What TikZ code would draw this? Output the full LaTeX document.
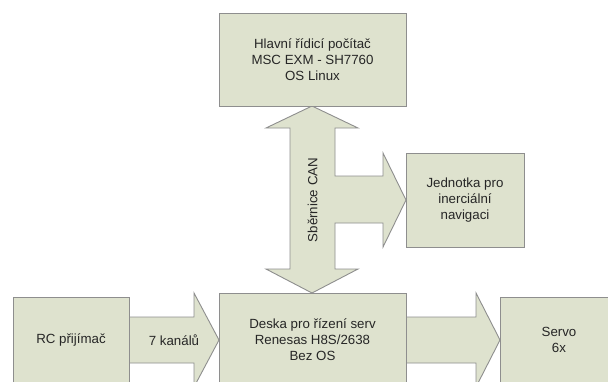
\documentclass[tikz,border=0pt]{standalone}
\usepackage{fontspec}
\setmainfont{Liberation Sans}
\begin{document}
\begin{tikzpicture}[x=1pt,y=-1pt,
  blockfill/.style={fill=sage,draw=edgegrey,line width=0.9pt,line join=miter},
  unit/.style={blockfill,rectangle,inner sep=0pt,align=center,
    font=\fontsize{13.3}{16}\selectfont,text=textdark},
  lbl/.style={inner sep=0pt,align=center,font=\fontsize{13.3}{16}\selectfont,text=textdark}]
\definecolor{sage}{HTML}{DEE2CE}
\definecolor{edgegrey}{HTML}{8E8E8E}
\definecolor{textdark}{HTML}{262626}
\useasboundingbox (0,0) rectangle (608,381);
\clip (0,0) rectangle (608,381);
\fill[white] (0,0) rectangle (608,381);

% CAN bus: double arrow with a branch to the navigation unit
\draw[blockfill] (312,106) -- (358,128) -- (335,128) -- (335,176) -- (383,176)
  -- (383,153) -- (406,200) -- (383,247) -- (383,223) -- (335,223)
  -- (335,269) -- (358,269) -- (312,293) -- (266,269) -- (290,269)
  -- (290,128) -- (266,128) -- cycle;
\node[lbl,rotate=90] (can) at (312.5,200) {Sběrnice CAN};

% receiver to servo board
\draw[blockfill] (129,317) -- (194,317) -- (194,293) -- (219,340)
  -- (194,387) -- (194,363) -- (129,363) -- cycle;
\node[lbl] (ch) at (174,340) {7 kanálů};

% servo board to servos
\draw[blockfill] (406,317) -- (476,317) -- (476,293) -- (500,340)
  -- (476,387) -- (476,363) -- (406,363) -- cycle;

% units
\node[unit,minimum width=187pt,minimum height=93pt] (main) at (312.5,59.5)
  {Hlavní řídicí počítač\\MSC EXM - SH7760\\OS Linux};
\node[unit,minimum width=118pt,minimum height=94pt] (ins) at (465,200)
  {Jednotka pro\\inerciální\\navigaci};
\node[unit,minimum width=187pt,minimum height=94pt] (board) at (312.5,340)
  {Deska pro řízení serv\\Renesas H8S/2638\\Bez OS};
\node[unit,minimum width=116pt,minimum height=86pt] (rc) at (71,340)
  {RC přijímač};
\node[unit,minimum width=118pt,minimum height=86pt] (servo) at (559,340)
  {Servo\\6x};
\end{tikzpicture}
\end{document}
